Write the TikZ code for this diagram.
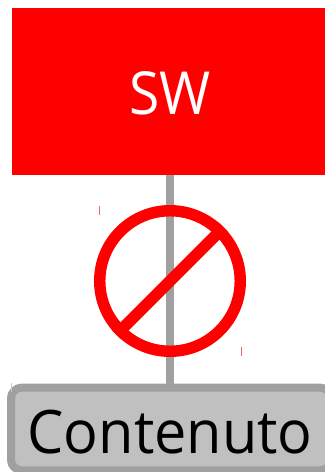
\documentclass[tikz,border=0pt]{standalone}
\usepackage{fontspec}
\setmainfont{Carlito}
\newfontfamily\contfont[FakeStretch=0.96]{Open Sans}
\newfontfamily\swfont[FakeStretch=0.93]{Open Sans}
\definecolor{linkgray}{HTML}{A0A0A0}
\definecolor{boxgray}{HTML}{C0C0C0}
\definecolor{markred}{HTML}{FF6060}
\definecolor{markgray}{HTML}{C8C8C8}
\tikzset{
  px/.style={x=0.75pt,y=-0.75pt},
  swbox/.style={draw=none,fill=red,minimum width=234.75pt,minimum height=125.25pt,inner sep=0pt},
  swtext/.style={text=white,inner sep=0pt,font=\swfont\fontsize{44.5}{54}\selectfont},
  contentbox/.style={draw=linkgray,line width=6pt,fill=boxgray,rounded corners=8pt,minimum width=240pt,minimum height=62pt,inner sep=0pt},
  contenttext/.style={text=black,inner sep=0pt,font=\contfont\fontsize{45}{58}\selectfont},
  link/.style={draw=linkgray,line width=5.6pt},
  nosign/.style={draw=red,line width=8.6pt}
}
\begin{document}
\begin{tikzpicture}[px]
\useasboundingbox (0,0) rectangle (325,472);
\begin{scope}
\clip (0,0) rectangle (325,472);
\node[swbox] (sw) at (168.5,91.5) {};
\node[contentbox] (cont) at (171,429) {};
\draw[link] (sw.south -| 170,0) -- (cont.north -| 170,0);
\node[contenttext] (contlabel) at (170,432) {Contenuto};
\node[swtext] (swlabel) at (170,93) {SW};
\node[circle,nosign,minimum size=105.4pt,inner sep=0pt] (sign) at (170,281) {};
\draw[nosign] (sign.45) -- (sign.225);
\fill[markred] (99,206) rectangle (100,215);
\fill[markred] (240.5,347) rectangle (241.5,356);
\fill[markgray] (11,383) rectangle (12,392);
\end{scope}
\end{tikzpicture}
\end{document}
